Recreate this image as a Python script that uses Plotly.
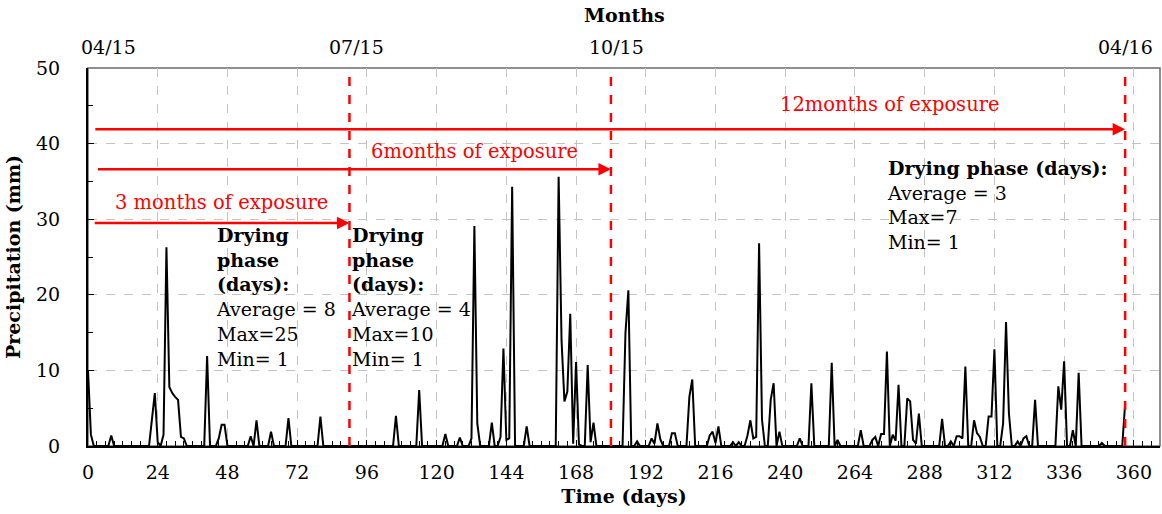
import plotly.graph_objects as go

# ---- data ----
event_day = [0, 1, 8, 22, 23, 24, 26, 27, 28, 29, 30, 31, 32, 33, 41, 45, 46, 47, 56, 58, 63, 69, 80,
             106, 114, 123, 128, 132, 133, 134, 139, 142, 143, 144, 145, 146, 151,
             162, 163, 164, 165, 166, 167, 168, 169, 172, 173, 174,
             185, 186, 189, 194, 195, 196, 197, 201, 202, 207, 208, 214, 215, 216, 217,
             222, 224, 227, 228, 229, 230, 231, 232, 235, 236, 238, 245, 249, 256, 258,
             266, 270, 271, 273, 274, 275, 277, 278, 279, 282, 283, 284, 285, 286,
             294, 297, 299, 300, 301, 302, 305, 306, 307, 310, 311, 312, 315, 316, 317,
             320, 322, 323, 326, 334, 335, 336, 339, 341, 349, 357]
event_mm = [10.0, 1.5, 1.4, 3.5, 7.0, 0.5, 1.5, 26.3, 7.8, 7.0, 6.5, 6.1, 1.2, 1.0, 11.9, 1.0, 2.8, 2.8, 1.3, 3.4, 1.9, 3.7, 3.9,
            4.0, 7.4, 1.6, 1.1, 1.0, 29.1, 3.0, 3.1, 1.2, 12.9, 0.8, 1.0, 34.3, 2.6,
            35.6, 14.0, 5.9, 7.2, 17.5, 0.3, 11.1, 0.2, 10.7, 0.5, 3.1,
            14.9, 20.6, 0.6, 1.0, 0.3, 3.0, 0.9, 1.7, 1.7, 6.5, 8.8, 1.4, 1.9, 0.4, 2.6,
            0.5, 0.5, 1.4, 3.4, 1.0, 1.2, 26.8, 3.5, 6.1, 8.3, 1.9, 1.0, 8.3, 11.0, 0.8,
            2.1, 0.8, 1.2, 1.6, 1.6, 12.5, 1.5, 0.7, 8.1, 6.3, 5.9, 0.8, 0.3, 4.3,
            3.6, 0.6, 1.3, 1.3, 1.0, 10.5, 3.4, 1.7, 1.2, 3.9, 3.9, 12.8, 3.0, 16.4, 4.3,
            0.6, 1.0, 1.3, 6.1, 7.9, 4.8, 11.2, 2.1, 9.7, 0.4, 5.6]
last_day = 357

phase_days = [90, 180, 357]                 # red dashed boundaries
month_labels = ["04/15", "07/15", "10/15", "04/16"]
month_label_pos = [7, 92.5, 182, 357]

exposure_text = ["3 months of exposure", "6months of exposure", "12months of exposure"]
exposure_start = [1.8, 2.9, 2.0]
exposure_end = [90, 180, 357]
exposure_y = [29.5, 36.6, 41.9]
exposure_text_pos = [46, 133, 276]
exposure_text_y = [32.2, 39.0, 45.2]

# build the daily series
days = list(range(0, last_day + 1))
rain = [0.0] * len(days)
for d, v in zip(event_day, event_mm):
    rain[d] = v

FONT = "DejaVu Serif"

fig = go.Figure()
fig.add_trace(go.Scatter(x=days, y=rain, mode="lines",
                         line=dict(color="black", width=2), showlegend=False,
                         hoverinfo="skip"))

shapes = []
shapes.append(dict(type="rect", xref="paper", yref="paper", x0=0, x1=1, y0=0, y1=1,
                   line=dict(color="#6b6b6b", width=1.5), layer="below"))
for d in phase_days:
    shapes.append(dict(type="line", xref="x", yref="paper", x0=d, x1=d, y0=0, y1=1,
                       line=dict(color="red", width=2.5, dash="dash")))

annotations = []
for s, e, y in zip(exposure_start, exposure_end, exposure_y):
    annotations.append(dict(x=e, y=y, ax=s, ay=y, xref="x", yref="y", axref="x", ayref="y",
                            text="", showarrow=True, arrowhead=2, arrowsize=1,
                            arrowwidth=2.5, arrowcolor="red"))
for t, x, y in zip(exposure_text, exposure_text_pos, exposure_text_y):
    annotations.append(dict(x=x, y=y, xref="x", yref="y", text=t, showarrow=False,
                            font=dict(family=FONT, size=19.5, color="red")))

stat_blocks = [
    (43.5, 29.6, "<b>Drying<br>phase<br>(days):</b><br>Average = 8<br>Max=25<br>Min= 1"),
    (89.7, 29.6, "<b>Drying<br>phase<br>(days):</b><br>Average = 4<br>Max=10<br>Min= 1"),
    (274.3, 38.5, "<b>Drying phase (days):</b><br>Average = 3<br>Max=7<br>Min= 1"),
]
for x, y, t in stat_blocks:
    annotations.append(dict(x=x, y=y, xref="x", yref="y", text=t, showarrow=False,
                            xanchor="left", yanchor="top", align="left",
                            font=dict(family=FONT, size=19, color="black")))

for lab, pos in zip(month_labels, month_label_pos):
    annotations.append(dict(x=pos, y=1, xref="x", yref="paper", text=lab, showarrow=False,
                            yanchor="bottom", yshift=8,
                            font=dict(family=FONT, size=19, color="black")))
annotations.append(dict(x=0.5, y=1, xref="paper", yref="paper", text="<b>Months</b>",
                        showarrow=False, yanchor="bottom", yshift=40,
                        font=dict(family=FONT, size=19, color="black")))

fig.update_layout(
    width=1162, height=514,
    margin=dict(l=88, r=2, t=68, b=68),
    paper_bgcolor="white", plot_bgcolor="white",
    font=dict(family=FONT, size=19, color="black"),
    shapes=shapes, annotations=annotations,
    xaxis=dict(range=[0, 369], tickmode="linear", tick0=0, dtick=24, automargin=False,
               showgrid=True, gridcolor="#c4c4c4", griddash="dash", gridwidth=1,
               showline=True, linecolor="black", linewidth=2,
               ticks="inside", ticklen=6, tickcolor="black",
               minor=dict(dtick=3, ticks="inside", ticklen=5, tickcolor="black", showgrid=False),
               ticklabelstandoff=8, zeroline=False,
               title=dict(text="<b>Time (days)</b>", standoff=8,
                          font=dict(family=FONT, size=19))),
    yaxis=dict(range=[0, 50], tickmode="linear", tick0=0, dtick=10, automargin=False,
               showgrid=True, gridcolor="#c4c4c4", griddash="dash", gridwidth=1,
               showline=True, linecolor="black", linewidth=2,
               ticks="inside", ticklen=6, tickcolor="black",
               minor=dict(dtick=5, ticks="inside", ticklen=5, tickcolor="black", showgrid=False),
               ticklabelstandoff=22, zeroline=False,
               title=dict(text="<b>Precipitation (mm)</b>", standoff=10,
                          font=dict(family=FONT, size=19))),
)

fig.write_html("out.html", config={"displayModeBar": False},
               post_script="document.body.style.margin='0';document.body.style.padding='0';")
